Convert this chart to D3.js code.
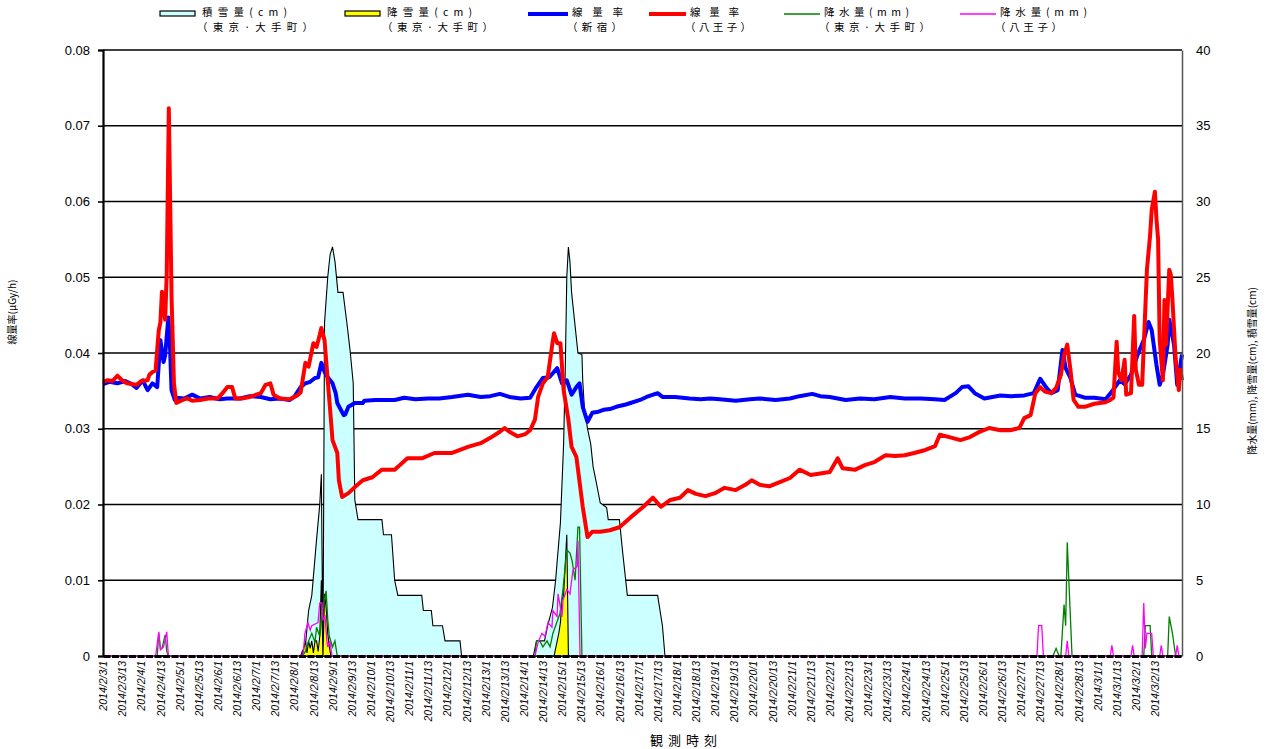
<!DOCTYPE html>
<html>
<head>
<meta charset="utf-8">
<script src="https://cdn.jsdelivr.net/npm/d3@7"></script>
<style>
  body { margin: 0; background: #fff; }
  svg text { font-family: "Liberation Sans", Arial, sans-serif; fill: #000; }
  svg text.jp { font-family: "Noto Sans CJK JP", sans-serif; }
</style>
</head>
<body>
<svg id="chart" width="1266" height="749"></svg>
<script>
/* global d3 */
const WIDTH = 1266;
const HEIGHT = 749;
const MARGIN = { top: 50, right: 84, bottom: 93, left: 103 };
const LAST_HOUR = 677; // hours after 2014/2/3 1:00

// x tick labels, one every 12 hours
const timeLabels = [
  '2014/2/3/1','2014/2/3/13','2014/2/4/1','2014/2/4/13','2014/2/5/1','2014/2/5/13',
  '2014/2/6/1','2014/2/6/13','2014/2/7/1','2014/2/7/13','2014/2/8/1','2014/2/8/13',
  '2014/2/9/1','2014/2/9/13','2014/2/10/1','2014/2/10/13','2014/2/11/1','2014/2/11/13',
  '2014/2/12/1','2014/2/12/13','2014/2/13/1','2014/2/13/13','2014/2/14/1','2014/2/14/13',
  '2014/2/15/1','2014/2/15/13','2014/2/16/1','2014/2/16/13','2014/2/17/1','2014/2/17/13',
  '2014/2/18/1','2014/2/18/13','2014/2/19/1','2014/2/19/13','2014/2/20/1','2014/2/20/13',
  '2014/2/21/1','2014/2/21/13','2014/2/22/1','2014/2/22/13','2014/2/23/1','2014/2/23/13',
  '2014/2/24/1','2014/2/24/13','2014/2/25/1','2014/2/25/13','2014/2/26/1','2014/2/26/13',
  '2014/2/27/1','2014/2/27/13','2014/2/28/1','2014/2/28/13','2014/3/1/1','2014/3/1/13',
  '2014/3/2/1','2014/3/2/13'
];
const leftTicks = [0, 0.01, 0.02, 0.03, 0.04, 0.05, 0.06, 0.07, 0.08];
const rightTicks = [0, 5, 10, 15, 20, 25, 30, 35, 40];

// [hour, µGy/h]  線量率(新宿)
const doseShinjuku = [
  [0,0.0359],[4,0.0362],[9,0.036],[14,0.0363],[18,0.0359],[21,0.0354],[25,0.0364],[27,0.0355],
  [28,0.0351],[31,0.036],[34,0.0355],[36,0.0417],[38,0.0388],[39,0.0397],[41,0.0447],[42,0.0411],
  [43,0.0351],[45,0.0338],[46,0.0341],[51,0.034],[56,0.0345],[61,0.034],[67,0.0342],[73,0.0339],
  [78,0.034],[86,0.034],[92,0.0343],[99,0.0342],[105,0.0339],[111,0.034],[117,0.0338],[120,0.0342],
  [124,0.0355],[127,0.036],[130,0.0362],[133,0.0367],[135,0.0368],[137,0.0387],[139,0.0375],
  [141,0.0368],[144,0.036],[146,0.0347],[147,0.0334],[151,0.0318],[152,0.0319],[154,0.0329],
  [158,0.0334],[163,0.0334],[164,0.0337],[171,0.0338],[177,0.0338],[183,0.0338],[189,0.0341],
  [196,0.0339],[204,0.034],[211,0.034],[219,0.0342],[229,0.0345],[237,0.0342],[243,0.0343],
  [249,0.0346],[255,0.0342],[262,0.034],[268,0.0341],[272,0.0355],[276,0.0367],[280,0.0368],
  [285,0.038],[288,0.036],[291,0.0364],[294,0.0345],[297,0.0355],[299,0.036],[301,0.0329],
  [304,0.0309],[307,0.0321],[310,0.0322],[314,0.0325],[318,0.0326],[322,0.0329],[328,0.0332],
  [331,0.0334],[337,0.0338],[341,0.0342],[348,0.0347],[351,0.0342],[359,0.0342],[368,0.034],
  [375,0.0339],[381,0.034],[387,0.0339],[397,0.0337],[406,0.0339],[412,0.034],[422,0.0338],
  [431,0.034],[437,0.0343],[445,0.0346],[450,0.0343],[456,0.0342],[466,0.0338],[475,0.034],
  [484,0.0339],[494,0.0342],[503,0.034],[513,0.034],[522,0.0339],[528,0.0338],[535,0.0347],
  [539,0.0355],[543,0.0356],[547,0.0347],[553,0.034],[563,0.0344],[570,0.0343],[578,0.0344],
  [584,0.0347],[588,0.0366],[592,0.0354],[595,0.0347],[599,0.0351],[602,0.0404],[604,0.038],
  [607,0.0367],[610,0.0345],[616,0.0341],[622,0.0341],[629,0.0339],[633,0.0349],[638,0.0364],
  [641,0.0359],[645,0.0371],[649,0.0397],[653,0.0417],[656,0.0441],[658,0.043],[661,0.0384],
  [663,0.0358],[665,0.0371],[668,0.0411],[669,0.0444],[672,0.0411],[674,0.0358],[677,0.0398]
];

// [hour, µGy/h]  線量率(八王子)
const doseHachioji = [
  [0,0.0362],[3,0.0364],[6,0.0363],[9,0.037],[12,0.0364],[15,0.036],[18,0.0359],[21,0.0358],
  [24,0.0363],[28,0.0364],[29,0.0371],[31,0.0375],[33,0.0377],[34,0.0404],[35,0.043],[36,0.044],
  [37,0.0481],[38,0.0464],[39,0.0444],[40,0.0506],[41.3,0.0723],[43,0.0475],[44.5,0.036],
  [46,0.0334],[50,0.0338],[53,0.034],[56,0.0337],[61,0.0338],[66,0.034],[72,0.034],[75,0.0347],
  [78,0.0355],[81,0.0355],[83,0.034],[87,0.034],[92,0.0342],[99,0.0347],[102,0.0358],[105,0.036],
  [107,0.0345],[111,0.034],[117,0.0339],[122,0.0344],[124,0.0348],[127,0.0387],[129,0.0382],
  [132,0.0413],[134,0.0408],[136,0.0424],[137,0.0433],[139,0.0417],[141,0.0364],[143,0.0312],
  [144,0.0285],[147,0.0268],[148,0.0232],[150,0.021],[154,0.0215],[158,0.0223],[163,0.0232],
  [169,0.0236],[175,0.0246],[183,0.0246],[191,0.0261],[200,0.0261],[208,0.0268],[219,0.0268],
  [229,0.0276],[237,0.0281],[243,0.0288],[249,0.0296],[252,0.0301],[255,0.0296],[260,0.029],
  [265,0.0293],[268,0.0298],[271,0.0312],[273,0.0342],[276,0.036],[279,0.0368],[282,0.0413],
  [283,0.0426],[285,0.0413],[287,0.0413],[289,0.0351],[292,0.0312],[294,0.0276],[297,0.0263],
  [301,0.0197],[304,0.0157],[307,0.0164],[312,0.0164],[318,0.0166],[324,0.017],[331,0.0183],
  [339,0.0197],[345,0.0209],[350,0.0197],[356,0.0206],[362,0.0209],[367,0.0219],[372,0.0214],
  [378,0.0211],[384,0.0215],[390,0.0222],[397,0.0219],[403,0.0226],[407,0.0232],[412,0.0226],
  [418,0.0224],[425,0.023],[431,0.0235],[437,0.0246],[444,0.0239],[450,0.0241],[456,0.0243],
  [461,0.0261],[464,0.0248],[472,0.0246],[478,0.0252],[484,0.0256],[491,0.0265],[497,0.0264],
  [503,0.0265],[509,0.0268],[516,0.0272],[522,0.0277],[525,0.0292],[531,0.0289],[538,0.0285],
  [544,0.0289],[550,0.0296],[556,0.0301],[563,0.0298],[569,0.0298],[575,0.0301],[578,0.0314],
  [582,0.0318],[585,0.0347],[588,0.0355],[591,0.0349],[595,0.0347],[598,0.0354],[601,0.0371],
  [603,0.0397],[605,0.0411],[607,0.0378],[609,0.0338],[612,0.0329],[616,0.0329],[622,0.0333],
  [629,0.0335],[632,0.0338],[634,0.0341],[636,0.0415],[637,0.0375],[639,0.0364],[641,0.0391],
  [642,0.0345],[645,0.0347],[647,0.0449],[648,0.0378],[650,0.0358],[652,0.0358],[655,0.051],
  [657,0.0556],[658,0.0589],[660,0.0613],[661,0.0576],[662,0.055],[663,0.0417],[665,0.0364],
  [666,0.047],[667,0.0411],[669,0.051],[670,0.0503],[671,0.047],[673,0.0393],[675,0.0351],
  [676,0.0378],[677,0.0364]
];

// [hour, cm]  積雪量(東京・大手町)
const snowDepth = [
  [0,0],[124,0],[125,0.3],[127,0.7],[129,3],[131,4],[134,7.7],[136,10],[137,12],[138,0],
  [139,22],[141,25],[142.5,26.5],[144,27],[145.6,26],[147.4,24],[150.6,24],[153,22],[155,20.2],
  [157,18],[158,10.3],[160,9],[175,9],[176,8],[181,8],[183,5],[185,4],[200,4],[201,3],[206,3],
  [207,2],[213,2],[214.6,1],[224,1],[225,0],[270,0],[272,1],[277,1],[279,2],[282,3.2],[284,5],
  [285,6.3],[287,8.8],[289,14],[290,18.7],[291,25],[292,27],[293,26],[294,24],[296,22],[298,20],
  [300.5,19.9],[301,18.2],[302,16.4],[304,15],[306,14],[307.5,12.5],[310,11.2],[312,10.1],
  [316,9.8],[317,9],[324,9],[326,6.9],[329,4],[348,4],[349.5,3],[351,2],[352.6,0],[677,0]
];

// [hour, cm]  降雪量(東京・大手町)
const snowFall = [
  [0,0],[125,0],[126,0.5],[127,1],[128,0.2],[129,1],[130,0.5],[131,1],[132,0.2],[133,1],
  [134,1],[135,0.3],[136,1.3],[137,5],[138,0],[139,4.1],[140,3.2],[141,1.5],[142,0.6],[143,0],
  [283,0],[284,0.5],[286,1.5],[287,2.2],[288,3.7],[289,4],[291,8],[292,0],[677,0]
];

// [hour, mm]  降水量(東京・大手町)
const rainTokyo = [
  [0,0],[34,0],[35,1.5],[36,0.5],[37,0.5],[39,1.4],[40,0.3],[41,0],[125,0],[127,0.3],[129,1],
  [131,1.5],[133,0.9],[134,1.9],[136,1.3],[138,3.2],[140,4.3],[141,2.4],[142,1.3],[144,0.6],
  [145.5,1],[147,0],[271,0],[272,1],[274,1],[276,0.6],[278.6,1],[280.5,0.6],[282.3,1.5],
  [286.7,2.8],[288.6,4.4],[291,7],[293,6.8],[294.3,6.3],[296.2,5],[298,8.5],[299,8.5],[300.5,0],
  [596,0],[598,0.5],[600,0],[601,0],[602,1.7],[603,3.4],[604,2],[605,7.5],[606,5],[607,2.5],
  [608,0],[653,0],[654,2],[657,2],[658,0],[668,0],[669,2.6],[671,1.5],[673,0],[677,0]
];

// [hour, mm]  降水量(八王子)
const rainHachioji = [
  [0,0],[33,0],[35,1.6],[36,0.4],[38,0.6],[40,1.6],[41,0],[125.5,0],[126.7,1.5],[128.6,2.2],
  [130,1.7],[131,2],[134.9,2.2],[136,3.5],[137.4,3.5],[138,2.4],[139.3,2.6],[140.5,1],[141,0.6],
  [142.4,1],[143.7,0],[271,0],[273,0.9],[275.4,1.5],[277.3,1.3],[279.2,2.2],[281.7,1.9],
  [282.3,3],[284.9,2.6],[285.5,4.1],[288,2.6],[288.6,3.7],[291.1,4.4],[293,4.1],[294.9,5.7],
  [297.4,5.9],[298,7.6],[299.3,0],[586,0],[587,2],[589,2],[590,0],[604,0],[605,1],[606,0],
  [632,0],[633,0.7],[634,0],[645,0],[646,0.7],[647,0],[652,0],[653,3.5],[654,0.5],[655,1.5],
  [658,1.5],[659,0],[663,0],[664,0.7],[665,0],[673,0],[674,0.7],[675,0],[677,0]
];

const legendLine1 = ['積雪量(cm)', '降雪量(cm)', '線量率', '線量率', '降水量(mm)', '降水量(mm)'];
const legendLine2 = ['（東京·大手町）', '（東京·大手町）', '（新宿）', '（八王子）', '（東京·大手町）', '（八王子）'];

const $svg = d3.select('#chart');
const plotLeft = MARGIN.left;
const plotRight = WIDTH - MARGIN.right;
const plotTop = MARGIN.top;
const plotBottom = HEIGHT - MARGIN.bottom;

const scaleX = d3.scaleLinear().domain([0, LAST_HOUR]).range([plotLeft, plotRight]);
const scaleYLeft = d3.scaleLinear().domain([0, 0.08]).range([plotBottom, plotTop]);
const scaleYRight = d3.scaleLinear().domain([0, 40]).range([plotBottom, plotTop]);

function drawGrid() {
  $svg.append('g').attr('class', 'grid')
    .selectAll('line')
    .data(leftTicks)
    .join('line')
    .attr('x1', plotLeft).attr('x2', plotRight)
    .attr('y1', d => scaleYLeft(d)).attr('y2', d => scaleYLeft(d))
    .attr('stroke', '#000').attr('stroke-width', 1.3);
}

function drawAreas() {
  const area = d3.area()
    .x(d => scaleX(d[0]))
    .y0(scaleYRight(0))
    .y1(d => scaleYRight(d[1]));

  $svg.append('path')
    .datum(snowDepth)
    .attr('d', area)
    .attr('fill', '#ccffff')
    .attr('stroke', '#000')
    .attr('stroke-width', 1.1);

  $svg.append('path')
    .datum(snowFall)
    .attr('d', area)
    .attr('fill', '#ffff00')
    .attr('stroke', '#000')
    .attr('stroke-width', 1.1);
}

function drawLines() {
  const lineLeft = d3.line().x(d => scaleX(d[0])).y(d => scaleYLeft(d[1]));
  const lineRight = d3.line().x(d => scaleX(d[0])).y(d => scaleYRight(d[1]));

  $svg.append('path').datum(doseShinjuku).attr('d', lineLeft)
    .attr('fill', 'none').attr('stroke', '#0000ff').attr('stroke-width', 4)
    .attr('stroke-linejoin', 'round');
  $svg.append('path').datum(doseHachioji).attr('d', lineLeft)
    .attr('fill', 'none').attr('stroke', '#ff0000').attr('stroke-width', 4)
    .attr('stroke-linejoin', 'round');
  $svg.append('path').datum(rainTokyo).attr('d', lineRight)
    .attr('fill', 'none').attr('stroke', '#008000').attr('stroke-width', 1.3);
  $svg.append('path').datum(rainHachioji).attr('d', lineRight)
    .attr('fill', 'none').attr('stroke', '#ff00ff').attr('stroke-width', 1.3);
}

function drawAxes() {
  const axisLeft = d3.axisLeft(scaleYLeft)
    .tickValues(leftTicks)
    .tickSize(5)
    .tickPadding(8)
    .tickFormat(d => d === 0 ? '0' : d3.format('.2f')(d));
  const $gl = $svg.append('g')
    .attr('transform', `translate(${plotLeft},0)`)
    .call(axisLeft);
  $gl.select('.domain').attr('stroke-width', 2.2);
  $gl.selectAll('line').attr('stroke-width', 1.6);
  $gl.selectAll('text').style('font-size', '13px');

  const axisRight = d3.axisRight(scaleYRight)
    .tickValues(rightTicks)
    .tickSize(0)
    .tickPadding(14);
  const $gr = $svg.append('g')
    .attr('transform', `translate(${plotRight},0)`)
    .call(axisRight);
  $gr.select('.domain').attr('stroke', '#555').attr('stroke-width', 1.5);
  $gr.selectAll('text').style('font-size', '13px');

  const axisBottom = d3.axisBottom(scaleX)
    .tickValues(timeLabels.map((d, i) => i * 12))
    .tickFormat((d, i) => timeLabels[i])
    .tickSize(0)
    .tickPadding(4);
  const $gb = $svg.append('g')
    .attr('transform', `translate(0,${plotBottom})`)
    .call(axisBottom);
  $gb.select('.domain').attr('stroke-width', 3).attr('stroke-dasharray', '7,1.5');
  $gb.selectAll('text')
    .attr('transform', 'rotate(-90)')
    .attr('text-anchor', 'end')
    .attr('x', -5)
    .attr('y', 0)
    .attr('dy', '0.35em')
    .style('font-size', '10.5px')
    .style('font-style', 'italic');
}

function drawTitles() {
  $svg.append('text')
    .attr('class', 'jp')
    .attr('transform', 'translate(16,312) rotate(-90)')
    .attr('text-anchor', 'middle')
    .style('font-size', '10px')
    .text('線量率(μGy/h)');

  $svg.append('text')
    .attr('class', 'jp')
    .attr('transform', 'translate(1256,371) rotate(-90)')
    .attr('text-anchor', 'middle')
    .style('font-size', '10px')
    .text('降水量(mm), 降雪量(cm), 積雪量(cm)');

  $svg.append('text')
    .attr('class', 'jp')
    .attr('x', 686).attr('y', 745)
    .attr('text-anchor', 'middle')
    .style('font-size', '13px')
    .style('letter-spacing', '5px')
    .text('観測時刻');
}

function drawLegend() {
  const swatchX = [160, 345, 528, 649, 784, 960];
  const textX = [202, 387, 572, 690, 824, 1000];
  const line1Len = [85, 85, 51, 49, 85, 87];
  const line2Len = [111, 106, 50, 61, 106, 62];
  const kinds = ['rect', 'rect', 'line', 'line', 'line', 'line'];
  const colours = ['#ccffff', '#ffff00', '#0000ff', '#ff0000', '#008000', '#ff00ff'];
  const widths = [0, 0, 4, 4, 1.3, 1.3];

  const $legend = $svg.append('g').attr('class', 'legend');
  legendLine1.forEach((label, i) => {
    if (kinds[i] === 'rect') {
      $legend.append('rect')
        .attr('x', swatchX[i]).attr('y', 11)
        .attr('width', 35).attr('height', 5)
        .attr('fill', colours[i]).attr('stroke', '#000').attr('stroke-width', 1.2);
    } else {
      $legend.append('line')
        .attr('x1', swatchX[i]).attr('x2', textX[i] - 4)
        .attr('y1', 14).attr('y2', 14)
        .attr('stroke', colours[i]).attr('stroke-width', widths[i]);
    }
    $legend.append('text')
      .attr('class', 'jp')
      .attr('x', textX[i]).attr('y', 16)
      .attr('textLength', line1Len[i]).attr('lengthAdjust', 'spacing')
      .style('font-size', '10.5px')
      .text(label);
    $legend.append('text')
      .attr('class', 'jp')
      .attr('x', textX[i] - 5).attr('y', 31)
      .attr('textLength', line2Len[i] + 5).attr('lengthAdjust', 'spacing')
      .style('font-size', '10.5px')
      .text(legendLine2[i]);
  });
}

drawGrid();
drawAreas();
drawLines();
drawAxes();
drawTitles();
drawLegend();
</script>
</body>
</html>
